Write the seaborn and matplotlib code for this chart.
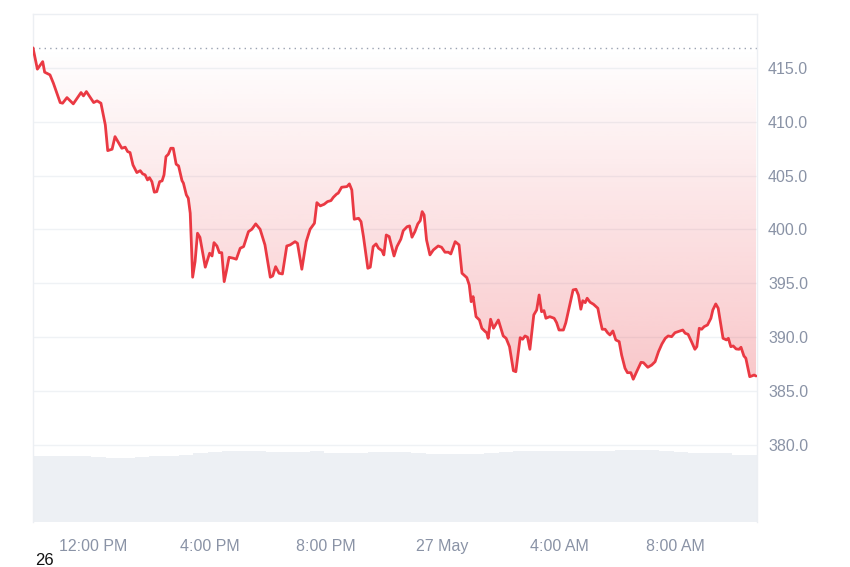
import numpy as np
import pandas as pd
import seaborn as sns
import matplotlib
matplotlib.use("Agg")
import matplotlib.pyplot as plt
import matplotlib.dates as mdates
from matplotlib.patches import PathPatch
from matplotlib.colors import to_rgb

# Datos
# ------------------------------------------------------------------------------
# minutos desde el 26 May 00:00
minutos = [596, 605, 616, 620, 631, 638, 652, 657, 666, 679, 695, 700, 706, 721, 728,
           736, 745, 750, 759, 765, 779, 786, 791, 796, 802, 810, 817, 822, 827, 832,
           836, 841, 846, 851, 857, 862, 866, 870, 875, 880, 885, 891, 896, 903, 906,
           912, 916, 920, 925, 930, 935, 940, 951, 960, 965, 969, 975, 980, 985, 990,
           995, 1000, 1009, 1015, 1023, 1030, 1040, 1047, 1055, 1064, 1074, 1085, 1090,
           1096, 1103, 1110, 1119, 1126, 1136, 1141, 1150, 1159, 1167, 1176, 1181, 1188,
           1196, 1203, 1210, 1215, 1222, 1225, 1232, 1243, 1248, 1253, 1258, 1267, 1272,
           1277, 1286, 1291, 1297, 1303, 1308, 1315, 1319, 1324, 1330, 1340, 1346, 1354,
           1359, 1367, 1372, 1377, 1383, 1389, 1394, 1398, 1402, 1407, 1414, 1421, 1431,
           1438, 1445, 1452, 1457, 1466, 1474, 1480, 1490, 1495, 1499, 1503, 1509, 1516,
           1521, 1528, 1531, 1534, 1539, 1545, 1555, 1565, 1571, 1578, 1586, 1591, 1600,
           1605, 1610, 1615, 1620, 1628, 1634, 1639, 1644, 1649, 1653, 1661, 1670, 1675,
           1680, 1689, 1694, 1703, 1709, 1715, 1720, 1725, 1729, 1734, 1738, 1744, 1751,
           1760, 1764, 1769, 1775, 1780, 1785, 1791, 1797, 1804, 1809, 1816, 1821, 1828,
           1833, 1840, 1849, 1854, 1863, 1871, 1878, 1885, 1892, 1899, 1905, 1912, 1919,
           1929, 1935, 1940, 1946, 1953, 1960, 1964, 1969, 1974, 1979, 1986, 1993, 1997,
           2003, 2008, 2018, 2025, 2029, 2034, 2039, 2045, 2051, 2055, 2061, 2065, 2073,
           2077, 2082, 2086]

precios = [416.86, 414.88, 415.58, 414.60, 414.35, 413.58, 411.78, 411.72, 412.24, 411.66,
           412.71, 412.40, 412.80, 411.78, 411.94, 411.72, 409.71, 407.32, 407.45, 408.62,
           407.54, 407.64, 407.23, 407.14, 405.99, 405.28, 405.46, 405.16, 405.07, 404.60,
           404.81, 404.44, 403.46, 403.51, 404.44, 404.51, 405.07, 406.76, 406.99, 407.54,
           407.54, 406.06, 405.90, 404.54, 404.30, 403.21, 402.90, 401.51, 395.57, 397.02,
           399.65, 399.28, 396.50, 397.80, 397.54, 398.78, 398.47, 397.85, 397.85, 395.16,
           396.24, 397.42, 397.33, 397.24, 398.26, 398.41, 399.80, 400.02, 400.52, 400.02,
           398.57, 395.57, 395.69, 396.55, 395.94, 395.87, 398.47, 398.57, 398.87, 398.72,
           396.31, 398.87, 400.02, 400.58, 402.49, 402.19, 402.34, 402.59, 402.68, 402.99,
           403.30, 403.37, 403.92, 403.98, 404.23, 403.67, 400.95, 401.04, 400.73, 399.34,
           396.40, 396.50, 398.41, 398.66, 398.26, 398.04, 397.64, 399.49, 399.34, 397.54,
           398.41, 399.10, 399.89, 400.26, 400.33, 399.28, 399.80, 400.52, 400.82, 401.66,
           401.35, 399.03, 397.64, 398.10, 398.47, 398.35, 397.89, 397.89, 397.73, 398.87,
           398.57, 395.94, 395.53, 394.85, 393.30, 393.77, 391.91, 391.60, 390.83, 390.52,
           390.42, 389.90, 391.67, 390.83, 391.60, 390.12, 389.90, 389.12, 386.89, 386.80,
           389.96, 389.81, 390.12, 390.00, 388.88, 392.07, 392.53, 393.92, 392.37, 392.47,
           391.76, 391.91, 391.76, 391.35, 390.67, 390.67, 391.35, 393.15, 394.39, 394.45,
           393.92, 392.60, 393.39, 393.21, 393.62, 393.25, 393.06, 392.69, 391.76, 390.74,
           390.74, 390.42, 390.21, 390.58, 389.75, 389.59, 388.35, 387.12, 386.71, 386.71,
           386.10, 386.80, 387.67, 387.64, 387.21, 387.42, 387.73, 388.66, 389.37, 389.90,
           390.12, 390.05, 390.42, 390.58, 390.67, 390.37, 390.27, 389.59, 388.88, 389.12,
           390.83, 390.74, 390.98, 391.14, 391.76, 392.53, 393.09, 392.69, 389.90, 389.75,
           389.90, 389.12, 389.19, 388.91, 388.88, 389.07, 388.26, 388.05, 386.34, 386.40,
           386.49, 386.40]

# volumen cada 30 minutos (unidades arbitrarias)
volumen = [32.4, 32.4, 32.4, 32.4, 32.0, 31.6, 31.6, 32.0, 32.7, 32.7,
           33.2, 34.2, 34.3, 34.7, 35.0, 34.7, 34.3, 34.3, 34.3, 34.7,
           34.2, 34.1, 34.2, 34.3, 34.3, 34.3, 34.2, 33.7, 33.7, 33.7,
           33.7, 34.2, 34.3, 34.9, 35.0, 35.0, 35.0, 35.0, 35.0, 35.0,
           35.2, 35.2, 35.2, 34.7, 34.3, 34.2, 34.1, 34.1, 33.2, 33.2]

precio_inicial = 416.86
ticks_y = [380, 385, 390, 395, 400, 405, 410, 415]
ticks_x_horas = [12, 16, 20, 24, 28, 32]
etiquetas_x = ["12:00 PM", "4:00 PM", "8:00 PM", "27 May", "4:00 AM", "8:00 AM"]

# Preparacion
# ------------------------------------------------------------------------------
inicio = pd.Timestamp("2024-05-26 00:00")
fechas = inicio + pd.to_timedelta(minutos, unit="m")
df = pd.DataFrame({"fecha": fechas, "precio": precios})
fechas_vol = inicio + pd.to_timedelta(596 + 30 * np.arange(len(volumen)), unit="m")

rojo = "#ea3943"
gris_texto = "#8a93a6"

sns.set_style("white")
plt.rcParams["font.family"] = ["Liberation Sans", "DejaVu Sans"]

fig = plt.figure(figsize=(8.5, 5.67), dpi=100)
ax = fig.add_axes([33 / 850, 45 / 567, 724 / 850, 508 / 567])
ax_vol = ax.twinx()

# Volumen al fondo
ax_vol.bar(fechas_vol, volumen, width=30 / 1440, align="edge",
           color="#edf0f4", edgecolor="none")
ax_vol.set_ylim(0, 250)
ax_vol.set_yticks([])
for s in ax_vol.spines.values():
    s.set_visible(False)

ax.set_zorder(ax_vol.get_zorder() + 1)
ax.patch.set_visible(False)

# Relleno con degradado entre la linea y el precio inicial
relleno = ax.fill_between(df["fecha"], df["precio"], precio_inicial, color="none")
ruta = relleno.get_paths()[0]
clip = PathPatch(ruta, facecolor="none", edgecolor="none")
ax.add_patch(clip)
x0, x1 = mdates.date2num(df["fecha"].iloc[0]), mdates.date2num(df["fecha"].iloc[-1])
y_min = min(precios)
grad = np.zeros((256, 1, 4))
grad[:, 0, :3] = to_rgb(rojo)
grad[:, 0, 3] = np.linspace(0.28, 0.0, 256)
im = ax.imshow(grad, extent=[x0, x1, y_min, precio_inicial], origin="lower",
               aspect="auto", zorder=1)
im.set_clip_path(clip)

ax.axhline(precio_inicial, color="#9aa2b1", lw=1, ls=(0, (1, 3)), zorder=2)

sns.lineplot(data=df, x="fecha", y="precio", color=rojo, lw=2, ax=ax, zorder=3)

# Ejes
ax.set_xlim(inicio + pd.Timedelta(minutes=596), inicio + pd.Timedelta(minutes=2088))
ax.set_ylim(372.85, 420.0)
ax.yaxis.tick_right()
ax.set_yticks(ticks_y)
ax.set_yticklabels([f"{v:.1f}" for v in ticks_y])
ax.set_xticks([inicio + pd.Timedelta(hours=h) for h in ticks_x_horas])
ax.set_xticklabels(etiquetas_x)
ax.tick_params(axis="both", length=0, labelsize=11.5, labelcolor=gris_texto)
ax.tick_params(axis="y", pad=8)
ax.tick_params(axis="x", pad=12)
ax.grid(axis="y", color="#eff2f5", lw=1)
ax.grid(axis="x", visible=False)
ax.set_xlabel("")
ax.set_ylabel("")
for lado, s in ax.spines.items():
    s.set_color("#eceff3")
    s.set_linewidth(1)
ax.spines["bottom"].set_visible(False)

fig.text(35 / 850, -1 / 567, "26", fontsize=12, color="#111111", ha="left", va="bottom")

fig.savefig("out.png", dpi=100)
